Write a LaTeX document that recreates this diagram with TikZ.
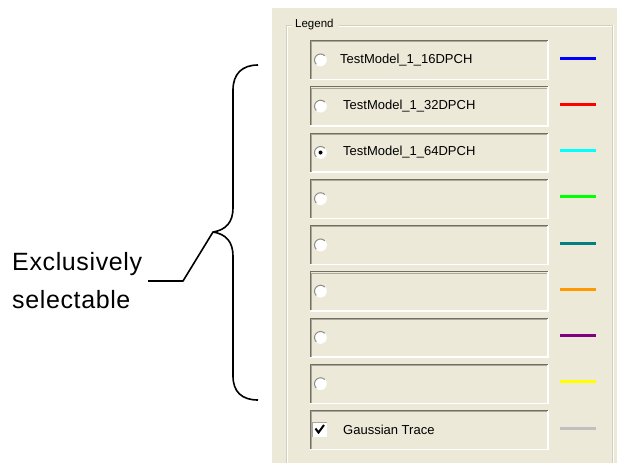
\documentclass[tikz,border=0pt]{standalone}
\usepackage{fontspec}
\setmainfont{Liberation Sans}
\newfontfamily\spacedsans[LetterSpace=2.5]{Liberation Sans}
\definecolor{xpbg}{HTML}{ECE9D8}
\definecolor{xpdark}{HTML}{716F64}
\definecolor{xpmid}{HTML}{ACA899}
\definecolor{xpgrp}{HTML}{D0D0BF}
\definecolor{trOrange}{HTML}{FF9900}
\definecolor{trTeal}{HTML}{008080}
\definecolor{trPurple}{HTML}{800080}
\definecolor{trGray}{HTML}{C0C0C0}
\definecolor{trGreen}{HTML}{00FF00}
\definecolor{trCyan}{HTML}{00FFFF}
\definecolor{trYellow}{HTML}{FFFF00}
\begin{document}
\begin{tikzpicture}[x=1pt,y=-1pt,
  uitext/.style={anchor=west,inner sep=0pt,font=\fontsize{13}{15}\selectfont},
  bigtext/.style={anchor=base west,inner sep=0pt,font=\spacedsans\fontsize{25}{28}\selectfont},
  trace/.style={line width=3pt},
  bracepen/.style={line width=1.6pt,black,line join=round}]
\useasboundingbox (0,0) rectangle (617,463);
\fill[white] (0,0) rectangle (617,463);
\fill[xpbg] (272,8) rectangle (617,463);
% group box
\draw[xpgrp,line width=1pt] (292,25.5) -- (286.5,25.5) -- (286.5,463);
\draw[xpgrp,line width=1pt] (339,25.5) -- (612.5,25.5) -- (612.5,463);
\draw[white,line width=1pt] (292,26.5) -- (287.5,26.5) -- (287.5,463);
\draw[white,line width=1pt] (339,26.5) -- (611.5,26.5);
\draw[white,line width=1pt] (613.5,25) -- (613.5,463);
\node[anchor=west,inner sep=0pt,font=\fontsize{11.5}{13}\selectfont] (legend) at (295,25) {Legend};
% rows
\foreach \i/\col in {1/blue,2/red,3/trCyan,4/trGreen,5/trTeal,6/trOrange,7/trPurple,8/trYellow,9/trGray}{
  \pgfmathsetmacro{\top}{40+46.25*(\i-1)}
  \fill[xpbg] (310,\top) rectangle (548,\top+40);
  \draw[white,line width=1.5pt] (310,\top+39.5) -- (548,\top+39.5) -- (548,\top);
  \draw[xpdark,line width=1.2pt] (310.6,\top+39) -- (310.6,\top+0.6) -- (547.5,\top+0.6);
  \draw[xpmid,line width=1pt] (311.8,\top+39) -- (311.8,\top+1.8) -- (547,\top+1.8);
  \draw[trace,\col] (560,\top+18) -- (596,\top+18);
  \ifnum\i<9
    \fill[white] (320.5,\top+20) circle (6.3);
    \draw[xpdark!80,line width=1pt] (320.5,\top+20) ++(135:6) arc (135:315:6);
  \fi
}
\fill[black] (320.5,152.5) circle (2);
% checkbox
\fill[white] (312,422) rectangle (327,437);
\draw[xpmid,line width=1pt] (312.5,437) -- (312.5,422.5) -- (327,422.5);
\draw[black,line width=2pt,line join=miter] (315.5,428.5) -- (318.5,432.5) -- (324,425);
% texts
\node[uitext] (t1) at (340,60) {TestModel\_1\_16DPCH};
\node[uitext] (t2) at (343,106.5) {TestModel\_1\_32DPCH};
\node[uitext] (t3) at (343,152.5) {TestModel\_1\_64DPCH};
\node[uitext] (t9) at (343,430) {Gaussian Trace};
% annotation
\node[bigtext] (ex) at (12,270) {Exclusively};
\node[bigtext] (sel) at (12,308) {selectable};
\coordinate (lbl) at (148,281);
\coordinate (bend) at (183,281);
\coordinate (tip) at (213,232);
\draw[bracepen] (258,65) .. controls (242,65) and (233,74) .. (233,90) -- (233,208)
  .. controls (233,222) and (226,230) .. (tip)
  .. controls (226,234) and (233,242) .. (233,256) -- (233,376)
  .. controls (233,392) and (242,400) .. (258,400);
\draw[bracepen] (lbl) -- (bend) -- (tip);
\end{tikzpicture}
\end{document}
